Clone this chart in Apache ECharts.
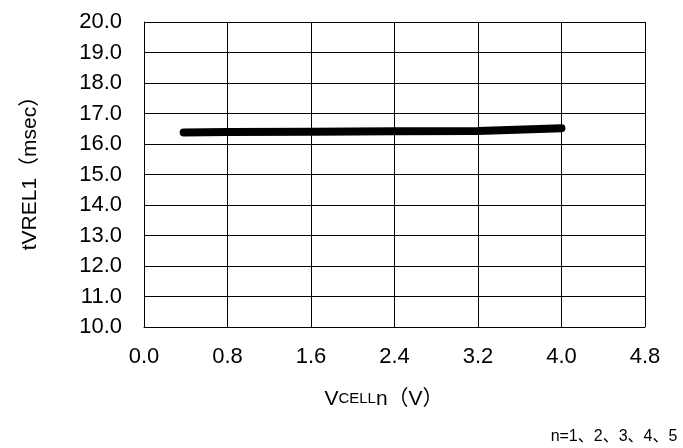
<!DOCTYPE html>
<html>
<head>
<meta charset="utf-8">
<script src="https://cdn.jsdelivr.net/npm/echarts@6/dist/echarts.min.js"></script>
<style>
  html, body { margin: 0; padding: 0; background: #fff; }
  #chart { width: 683px; height: 448px; }
</style>
</head>
<body>
<div id="chart"></div>
<script>
// VCELLn (V) vs tVREL1 (msec)
const vcell = [0.38, 0.8, 1.6, 2.4, 3.2, 4.0];
const tvrel = [16.38, 16.39, 16.40, 16.42, 16.43, 16.52];

const xTicks = { min: 0, max: 4.8, interval: 0.8 };
const yTicks = { min: 10, max: 20, interval: 1 };

let chart = echarts.init(document.getElementById('chart'));

let tickFont = {
  color: '#000',
  fontSize: 22,
  fontFamily: 'Liberation Sans'
};

let option = {
  backgroundColor: '#fff',
  animation: false,
  grid: {
    left: 144,
    right: 38,
    top: 22,
    bottom: 121
  },
  xAxis: {
    type: 'value',
    min: xTicks.min,
    max: xTicks.max,
    interval: xTicks.interval,
    axisLine: { lineStyle: { color: '#000', width: 1 } },
    axisTick: { show: false },
    splitLine: { show: true, lineStyle: { color: '#000', width: 1 } },
    axisLabel: Object.assign({
      margin: 19,
      formatter: function (v) { return v.toFixed(1) }
    }, tickFont)
  },
  yAxis: {
    type: 'value',
    min: yTicks.min,
    max: yTicks.max,
    interval: yTicks.interval,
    axisLine: { show: true, lineStyle: { color: '#000', width: 1 } },
    axisTick: { show: false },
    splitLine: { show: true, lineStyle: { color: '#000', width: 1 } },
    axisLabel: Object.assign({
      margin: 22,
      formatter: function (v) { return v.toFixed(1) }
    }, tickFont)
  },
  graphic: [
    {
      type: 'text',
      x: 30,
      y: 168,
      rotation: Math.PI / 2,
      style: {
        text: 'tVREL1（msec）',
        font: '21px "Liberation Sans", "Noto Sans CJK JP"',
        fill: '#000',
        align: 'center',
        verticalAlign: 'middle'
      }
    },
    {
      type: 'text',
      x: 384,
      y: 399,
      style: {
        text: '{big|V}{small|CELL}{big|n（V）}',
        align: 'center',
        verticalAlign: 'middle',
        rich: {
          big: { fontSize: 21, fontFamily: 'Liberation Sans, Noto Sans CJK JP', fill: '#000', color: '#000' },
          small: { fontSize: 15, fontFamily: 'Liberation Sans', fill: '#000', color: '#000' }
        }
      }
    },
    {
      type: 'text',
      x: 614,
      y: 437,
      style: {
        text: 'n=1、2、3、4、5',
        font: '16px "Liberation Sans", "Noto Sans CJK JP"',
        fill: '#000',
        align: 'center',
        verticalAlign: 'middle'
      }
    }
  ],
  series: [
    {
      type: 'line',
      data: vcell.map(function (v, i) { return [v, tvrel[i]] }),
      showSymbol: false,
      symbol: 'none',
      lineStyle: { color: '#000', width: 8, cap: 'round', join: 'round' }
    }
  ]
};

chart.setOption(option);
</script>
</body>
</html>
